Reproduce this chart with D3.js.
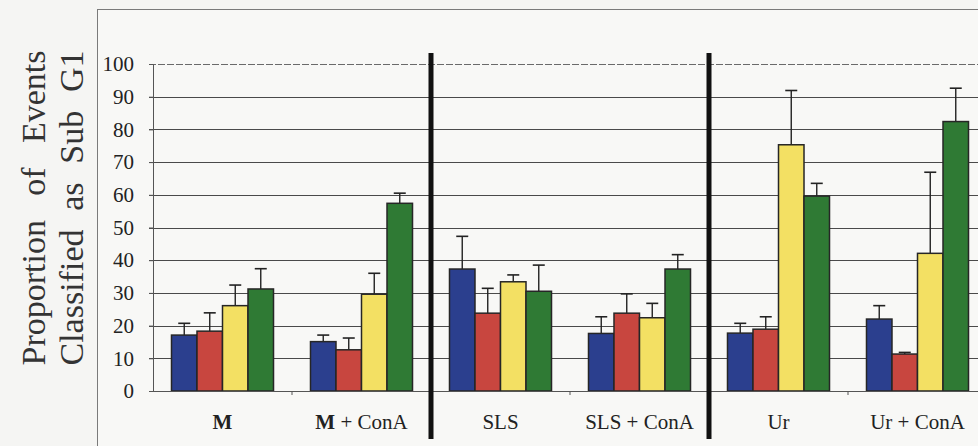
<!DOCTYPE html>
<html>
<head>
<meta charset="utf-8">
<script src="https://cdn.jsdelivr.net/npm/d3@7"></script>
<style>
  html, body { margin: 0; padding: 0; background: #f5f5f3; }
  svg { display: block; font-family: "Liberation Serif", "DejaVu Serif", serif; }
</style>
</head>
<body>
<div id="chart"></div>
<script>
// chart data
const categories = ['M', 'M + ConA', 'SLS', 'SLS + ConA', 'Ur', 'Ur + ConA'];
const seriesNames = ['Series 1', 'Series 2', 'Series 3', 'Series 4'];
const seriesColors = ['#2b3f8e', '#c8463f', '#f3e063', '#2f7a34'];

const blueValues = [17.1, 15.1, 37.3, 17.6, 17.7, 22.0];
const redValues = [18.3, 12.6, 23.8, 23.8, 18.9, 11.3];
const yellowValues = [26.1, 29.6, 33.4, 22.4, 75.3, 42.1];
const greenValues = [31.2, 57.4, 30.5, 37.3, 59.6, 82.4];

const blueErrors = [3.6, 2.0, 10.0, 5.1, 3.0, 4.1];
const redErrors = [5.6, 3.6, 7.6, 5.9, 3.8, 0.5];
const yellowErrors = [6.3, 6.4, 2.1, 4.4, 16.6, 24.8];
const greenErrors = [6.2, 3.1, 8.0, 4.4, 3.9, 10.2];

const yTicks = [0, 10, 20, 30, 40, 50, 60, 70, 80, 90, 100];
const separatorAfter = ['M + ConA', 'SLS + ConA']; // thick dividers between groups
const titleLines = ['Proportion of Events', 'Classified as Sub G1'];

const values = [blueValues, redValues, yellowValues, greenValues];
const errors = [blueErrors, redErrors, yellowErrors, greenErrors];

const width = 978;
const height = 446;
const plot = { left: 153, right: 987, top: 64, bottom: 391 };

const svg = d3.select('#chart')
  .append('svg')
  .attr('width', width)
  .attr('height', height);

// frame of the figure
svg.append('rect')
  .attr('x', 97.5).attr('y', 9.5)
  .attr('width', 1000).attr('height', 500)
  .attr('fill', '#f8f8f6')
  .attr('stroke', '#7a7a7a')
  .attr('stroke-width', 1);

const x = d3.scaleBand()
  .domain(categories)
  .range([plot.left, plot.right])
  .padding(0);

const xInner = d3.scaleBand()
  .domain(seriesNames)
  .range([0, x.bandwidth()])
  .paddingInner(0)
  .paddingOuter(0.725);

const y = d3.scaleLinear()
  .domain([0, 100])
  .range([plot.bottom, plot.top]);

// gridlines
svg.append('g')
  .selectAll('line')
  .data(yTicks.filter(t => t > 0))
  .join('line')
    .attr('x1', plot.left - 4)
    .attr('x2', width)
    .attr('y1', d => Math.round(y(d)) + 0.5)
    .attr('y2', d => Math.round(y(d)) + 0.5)
    .attr('stroke', d => (d === 100 ? '#6a6a6a' : '#4a4a4a'))
    .attr('stroke-dasharray', d => (d === 100 ? '7,2' : null))
    .attr('stroke-width', 1);

// y axis
const yAxis = svg.append('g')
  .attr('transform', `translate(${plot.left},0)`)
  .call(d3.axisLeft(y).tickValues(yTicks).tickSize(4).tickPadding(15));
yAxis.select('.domain').attr('stroke', '#555');
yAxis.selectAll('.tick line').attr('stroke', '#555');
yAxis.selectAll('.tick text')
  .attr('font-size', 21)
  .attr('fill', '#222')
  .attr('font-family', '"Liberation Serif", serif');

// bars
const bars = svg.append('g');
seriesNames.forEach((name, si) => {
  const rows = categories.map((c, ci) => ({ c, v: values[si][ci], e: errors[si][ci] }));
  const g = bars.append('g');
  // error bars (upper only)
  g.selectAll('line.err')
    .data(rows)
    .join('line')
      .attr('class', 'err')
      .attr('x1', d => x(d.c) + xInner(name) + xInner.bandwidth() / 2)
      .attr('x2', d => x(d.c) + xInner(name) + xInner.bandwidth() / 2)
      .attr('y1', d => y(d.v))
      .attr('y2', d => y(d.v + d.e))
      .attr('stroke', '#222')
      .attr('stroke-width', 1.4);
  g.selectAll('line.cap')
    .data(rows)
    .join('line')
      .attr('class', 'cap')
      .attr('x1', d => x(d.c) + xInner(name) + xInner.bandwidth() / 2 - 6)
      .attr('x2', d => x(d.c) + xInner(name) + xInner.bandwidth() / 2 + 6)
      .attr('y1', d => y(d.v + d.e))
      .attr('y2', d => y(d.v + d.e))
      .attr('stroke', '#222')
      .attr('stroke-width', 1.6);
  g.selectAll('rect')
    .data(rows)
    .join('rect')
      .attr('x', d => x(d.c) + xInner(name))
      .attr('y', d => y(d.v))
      .attr('width', xInner.bandwidth())
      .attr('height', d => y(0) - y(d.v))
      .attr('fill', seriesColors[si])
      .attr('stroke', '#262626')
      .attr('stroke-width', 1.5);
});

// x axis with ticks between categories
const boundaries = categories.slice(1).map(c => x(c));
const xAxis = svg.append('g');
xAxis.append('line')
  .attr('x1', plot.left).attr('x2', width)
  .attr('y1', y(0) + 0.5).attr('y2', y(0) + 0.5)
  .attr('stroke', '#555');
xAxis.selectAll('line.tick')
  .data(boundaries)
  .join('line')
    .attr('class', 'tick')
    .attr('x1', d => d).attr('x2', d => d)
    .attr('y1', y(0)).attr('y2', y(0) + 4)
    .attr('stroke', '#555');

const labels = xAxis.selectAll('text')
  .data(categories)
  .join('text')
    .attr('x', d => x(d) + x.bandwidth() / 2)
    .attr('y', 429)
    .attr('text-anchor', 'middle')
    .attr('font-size', 21)
    .attr('fill', '#222');
labels.each(function (d) {
  const t = d3.select(this);
  if (d.startsWith('M')) {
    t.append('tspan').attr('font-weight', 'bold').text('M');
    t.append('tspan').text(d.slice(1));
  } else {
    t.text(d);
  }
});

// thick group dividers
svg.append('g')
  .selectAll('line')
  .data(separatorAfter.map(c => x(c) + x.bandwidth()))
  .join('line')
    .attr('x1', d => d).attr('x2', d => d)
    .attr('y1', 53).attr('y2', 439)
    .attr('stroke', '#111')
    .attr('stroke-width', 5);

// y title, two rotated lines stretched to the same length
const titleLength = 315;
const title = svg.append('g')
  .attr('transform', 'translate(0,208) rotate(-90)');
titleLines.forEach((line, i) => {
  const t = title.append('text')
    .attr('x', 0)
    .attr('y', 45 + i * 38)
    .attr('text-anchor', 'middle')
    .attr('font-size', 34)
    .attr('fill', '#333')
    .text(line);
  const gaps = line.split(' ').length - 1;
  const len = t.node().getComputedTextLength();
  t.attr('word-spacing', Math.max(0, (titleLength - len) / gaps));
});
</script>
</body>
</html>
